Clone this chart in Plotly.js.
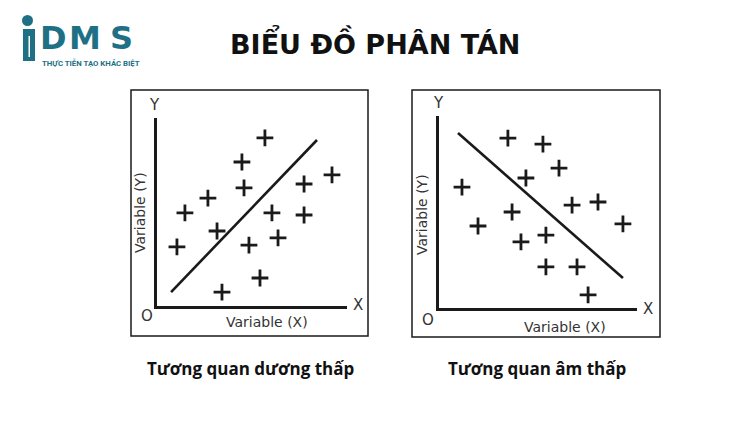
<!DOCTYPE html>
<html>
<head>
<meta charset="utf-8">
<script src="https://cdn.plot.ly/plotly-3.0.1.min.js"></script>
<style>html,body{margin:0;padding:0;background:#fff}#chart{width:750px;height:421px}</style>
</head>
<body>
<div id="chart"></div>
<script>
// Left panel: low positive correlation
const posX = [5.68, 4.47, 4.58, 2.68, 1.47, 3.16, 1.05, 6.05, 7.74, 9.21, 7.74, 6.37, 4.84, 5.42, 3.42];
const posY = [8.94, 7.66, 6.28, 5.74, 4.95, 3.99, 3.14, 4.95, 6.49, 6.97, 4.84, 3.62, 3.24, 1.49, 0.74];
const posLineX = [0.74, 8.42];
const posLineY = [0.74, 8.83];

// Right panel: low negative correlation
const negX = [3.48, 5.25, 6.06, 4.39, 1.16, 6.72, 8.03, 3.69, 9.29, 1.97, 5.40, 4.14, 5.40, 6.97, 7.53];
const negY = [8.85, 8.54, 7.29, 6.77, 6.30, 5.36, 5.52, 5.00, 4.38, 4.27, 3.80, 3.44, 2.14, 2.14, 0.68];
const negLineX = [0.96, 9.29];
const negLineY = [9.11, 1.56];

const chartTitle = "BIỂU ĐỒ PHÂN TÁN";
const panelTitles = ["Tương quan dương thấp", "Tương quan âm thấp"];
const axisXLabel = "Variable (X)";
const axisYLabel = "Variable (Y)";
const logoLetters = ["D", "M", "S"];
const logoTagline = "THỰC TIỄN TẠO KHÁC BIỆT";

const W = 750, H = 421;
const px = v => v / W;
const py = v => 1 - v / H;

const markerStyle = {symbol: 'cross-thin', size: 12, color: '#1a1a1a', line: {width: 2.8, color: '#1a1a1a'}};
const lineStyle = {color: '#1a1a1a', width: 2.6};

const traces = [
  {x: posLineX, y: posLineY, mode: 'lines', line: lineStyle, xaxis: 'x', yaxis: 'y', hoverinfo: 'skip'},
  {x: posX, y: posY, mode: 'markers', marker: markerStyle, xaxis: 'x', yaxis: 'y'},
  {x: negLineX, y: negLineY, mode: 'lines', line: lineStyle, xaxis: 'x2', yaxis: 'y2', hoverinfo: 'skip'},
  {x: negX, y: negY, mode: 'markers', marker: markerStyle, xaxis: 'x2', yaxis: 'y2'}
];

const axBase = {range: [0, 10], showgrid: false, zeroline: false, showticklabels: false, ticks: '',
  showline: true, linecolor: '#1a1a1a', linewidth: 3, fixedrange: true};

const teal = '#1e7085';
const textFont = {family: 'DejaVu Sans, Verdana, sans-serif', size: 14, color: '#333'};
const letterFont = {family: 'DejaVu Sans, Verdana, sans-serif', size: 15, color: '#333'};

const ann = [];
function addAnn(text, x, y, font, extra) {
  ann.push(Object.assign({text: text, x: px(x), y: py(y), xref: 'paper', yref: 'paper',
    showarrow: false, font: font, xanchor: 'center', yanchor: 'middle'}, extra || {}));
}
// main title
addAnn('<b>' + chartTitle + '</b>', 375, 42, {family: 'DejaVu Sans, sans-serif', size: 27, color: '#111'});
// panel titles
addAnn('<b>' + panelTitles[0] + '</b>', 250, 368, {family: 'Open Sans, sans-serif', size: 17, color: '#111'});
addAnn('<b>' + panelTitles[1] + '</b>', 537, 368, {family: 'Open Sans, sans-serif', size: 17, color: '#111'});
// left panel labels
addAnn(axisXLabel, 267, 322, textFont);
addAnn(axisYLabel, 140, 213, textFont, {textangle: -90});
addAnn('Y', 154, 105, letterFont);
addAnn('X', 358, 305, letterFont);
addAnn('O', 147, 316, letterFont);
// right panel labels
addAnn(axisXLabel, 565, 327, textFont);
addAnn(axisYLabel, 422, 215, textFont, {textangle: -90});
addAnn('Y', 438, 103, letterFont);
addAnn('X', 648, 309, letterFont);
addAnn('O', 428, 320, letterFont);
// logo
const logoFont = {family: 'DejaVu Sans, sans-serif', size: 32, color: teal};
const logoPos = [53, 85, 121];
logoLetters.forEach((l, i) => addAnn('<b>' + l + '</b>', logoPos[i], 38, logoFont));
addAnn('<b>' + logoTagline + '</b>', 40, 63, {family: 'Roboto, sans-serif', size: 7.8, color: teal}, {xanchor: 'left'});

const shapes = [
  {type: 'rect', xref: 'paper', yref: 'paper', x0: px(131), x1: px(368), y0: py(336), y1: py(90), line: {color: '#1a1a1a', width: 1.5}},
  {type: 'rect', xref: 'paper', yref: 'paper', x0: px(412), x1: px(660), y0: py(337), y1: py(90), line: {color: '#1a1a1a', width: 1.5}},
  // logo figure
  {type: 'circle', xref: 'paper', yref: 'paper', x0: px(22), x1: px(33), y0: py(26), y1: py(15), fillcolor: teal, line: {width: 0}},
  {type: 'rect', xref: 'paper', yref: 'paper', x0: px(23), x1: px(35), y0: py(61), y1: py(29), fillcolor: teal, line: {width: 0}},
  {type: 'rect', xref: 'paper', yref: 'paper', x0: px(28.5), x1: px(30), y0: py(57), y1: py(36), fillcolor: '#ffffff', line: {width: 0}}
];

const layout = {
  width: W, height: H,
  margin: {l: 0, r: 0, t: 0, b: 0},
  paper_bgcolor: '#ffffff', plot_bgcolor: 'rgba(0,0,0,0)',
  showlegend: false,
  xaxis: Object.assign({}, axBase, {domain: [px(157), px(347)], anchor: 'y'}),
  yaxis: Object.assign({}, axBase, {domain: [py(306), py(118)], anchor: 'x'}),
  xaxis2: Object.assign({}, axBase, {domain: [px(439), px(637)], anchor: 'y2'}),
  yaxis2: Object.assign({}, axBase, {domain: [py(308), py(116)], anchor: 'x2'}),
  annotations: ann,
  shapes: shapes
};

Plotly.newPlot('chart', traces, layout, {staticPlot: true, displayModeBar: false});
</script>
</body>
</html>
